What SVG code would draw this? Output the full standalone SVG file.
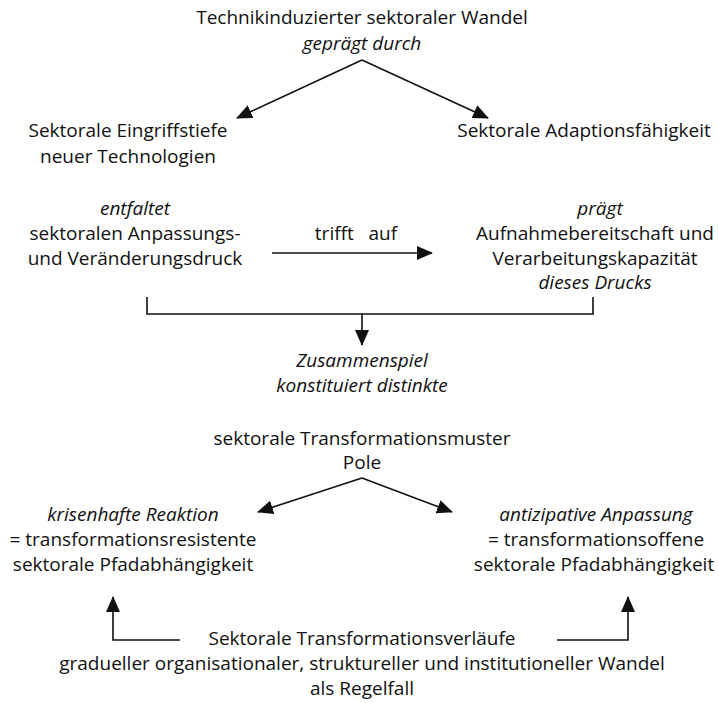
<svg xmlns="http://www.w3.org/2000/svg" width="719" height="703" viewBox="0 0 719 703">
<style>
text{font-family:"Open Sans","Noto Sans","DejaVu Sans",sans-serif;font-size:19px;fill:#111;text-anchor:middle}
.i{font-style:italic}
.c{fill:none;stroke:#111;stroke-width:1.6}
</style>
<defs>
<marker id="ah" markerUnits="userSpaceOnUse" markerWidth="16" markerHeight="14" refX="15" refY="7" orient="auto">
<path d="M0,0 L16,7 L0,14 Z" fill="#111"/>
</marker>
</defs>
<rect width="719" height="703" fill="#fff"/>
<g id="connectors">
<path class="c" d="M362,60 L237,118" marker-end="url(#ah)"/>
<path class="c" d="M362,60 L488,118" marker-end="url(#ah)"/>
<path class="c" d="M272,253 L432,253" marker-end="url(#ah)"/>
<path class="c" d="M147,297 V314 H593 V297"/>
<path class="c" d="M362,314 V345" marker-end="url(#ah)"/>
<path class="c" d="M362,478 L258,512" marker-end="url(#ah)"/>
<path class="c" d="M362,478 L452,512" marker-end="url(#ah)"/>
<path class="c" d="M180,640 H113 V597" marker-end="url(#ah)"/>
<path class="c" d="M557,640 H628 V597" marker-end="url(#ah)"/>
</g>
<g id="n-title">
<text x="362" y="24">Technikinduzierter sektoraler Wandel</text>
<text x="362" y="50" class="i">geprägt durch</text>
</g>
<g id="n-eingriff">
<text x="128" y="137">Sektorale Eingriffstiefe</text>
<text x="128" y="163">neuer Technologien</text>
</g>
<g id="n-adaption">
<text x="584" y="137">Sektorale Adaptionsfähigkeit</text>
</g>
<g id="n-druck">
<text x="135" y="215" class="i">entfaltet</text>
<text x="135" y="240">sektoralen Anpassungs-</text>
<text x="135" y="265">und Veränderungsdruck</text>
</g>
<g id="n-trifft">
<text x="356" y="240" xml:space="preserve">trifft   auf</text>
</g>
<g id="n-aufnahme">
<text x="600" y="215" class="i">prägt</text>
<text x="595" y="240">Aufnahmebereitschaft und</text>
<text x="595" y="265">Verarbeitungskapazität</text>
<text x="595" y="289" class="i">dieses Drucks</text>
</g>
<g id="n-zusammen">
<text x="362" y="367" class="i">Zusammenspiel</text>
<text x="362" y="392" class="i">konstituiert distinkte</text>
</g>
<g id="n-muster">
<text x="362" y="445">sektorale Transformationsmuster</text>
<text x="362" y="469">Pole</text>
</g>
<g id="n-krise">
<text x="133" y="521" class="i">krisenhafte Reaktion</text>
<text x="133" y="546">= transformationsresistente</text>
<text x="133" y="571">sektorale Pfadabhängigkeit</text>
</g>
<g id="n-antizip">
<text x="596" y="521" class="i">antizipative Anpassung</text>
<text x="596" y="546">= transformationsoffene</text>
<text x="594" y="571">sektorale Pfadabhängigkeit</text>
</g>
<g id="n-verlaeufe">
<text x="362" y="645">Sektorale Transformationsverläufe</text>
<text x="362" y="670">gradueller organisationaler, struktureller und institutioneller Wandel</text>
<text x="362" y="695">als Regelfall</text>
</g>
</svg>
